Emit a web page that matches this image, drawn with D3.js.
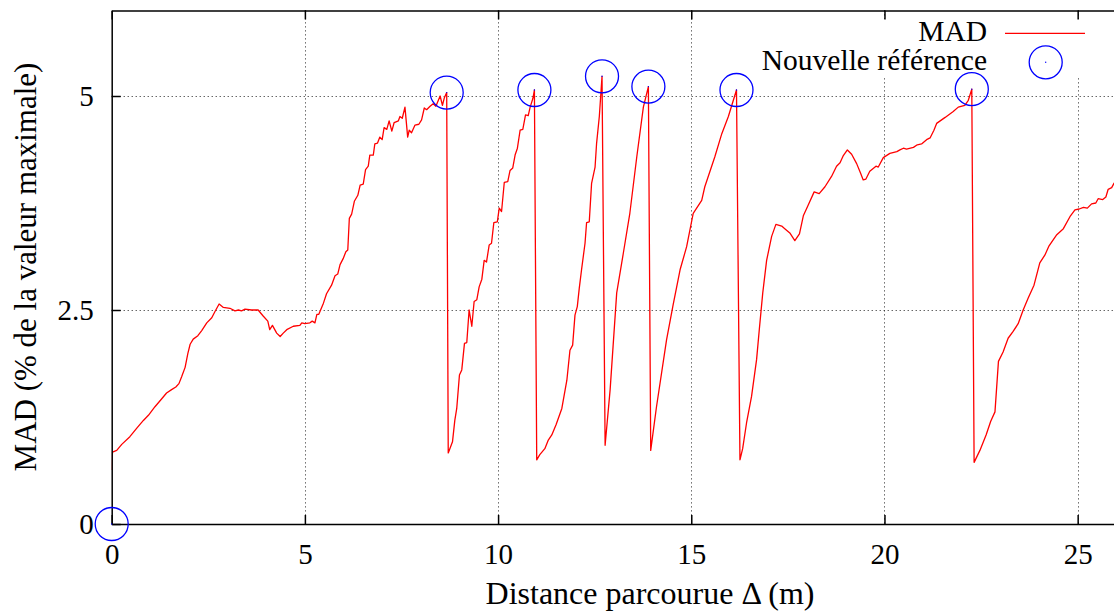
<!DOCTYPE html>
<html>
<head>
<meta charset="utf-8">
<script src="https://cdn.jsdelivr.net/npm/d3@7"></script>
<style>
  body { margin: 0; background: #fff; }
  text { font-family: "Liberation Serif", "Times New Roman", serif; fill: #000; }
</style>
</head>
<body>
<div id="chart"></div>
<script>
// tick values
const xTicks = [0, 5, 10, 15, 20, 25];
const yTicks = [0, 2.5, 5];

// MAD curve: [distance (m), MAD (%)]
const madSeries = [
  [0,0.63],[0.02,0.84],[0.13,0.86],[0.26,0.93],[0.47,1.02],[0.65,1.12],[0.82,1.21],[0.95,1.27],[1.12,1.37],
  [1.29,1.46],[1.42,1.53],[1.55,1.57],[1.66,1.60],[1.74,1.64],[1.81,1.72],[1.90,1.83],[1.97,1.99],[2.03,2.10],
  [2.11,2.16],[2.23,2.20],[2.33,2.26],[2.46,2.35],[2.59,2.41],[2.67,2.48],[2.78,2.57],[2.89,2.53],[3.06,2.52],
  [3.19,2.49],[3.28,2.50],[3.36,2.49],[3.45,2.51],[3.62,2.50],[3.79,2.50],[3.92,2.43],[4.04,2.37],[4.09,2.27],
  [4.16,2.32],[4.27,2.23],[4.36,2.19],[4.44,2.23],[4.53,2.27],[4.70,2.31],[4.87,2.32],[4.92,2.35],[5.00,2.34],
  [5.13,2.35],[5.19,2.37],[5.26,2.35],[5.31,2.45],[5.36,2.45],[5.48,2.58],[5.56,2.69],[5.69,2.79],[5.78,2.90],
  [5.85,2.92],[5.91,3.03],[5.99,3.10],[6.06,3.18],[6.11,3.20],[6.15,3.57],[6.21,3.62],[6.28,3.77],[6.37,3.84],
  [6.43,3.96],[6.51,3.97],[6.57,4.14],[6.64,4.18],[6.68,4.31],[6.77,4.31],[6.81,4.44],[6.88,4.45],[6.94,4.52],
  [7.00,4.49],[7.05,4.63],[7.12,4.61],[7.18,4.71],[7.25,4.59],[7.31,4.69],[7.42,4.71],[7.46,4.76],[7.52,4.74],
  [7.59,4.87],[7.66,4.52],[7.70,4.60],[7.76,4.57],[7.85,4.66],[7.95,4.67],[8.02,4.72],[8.09,4.86],[8.15,4.84],
  [8.24,4.88],[8.32,4.91],[8.39,4.88],[8.50,5.00],[8.56,4.89],[8.61,4.98],[8.67,5.04],
  [8.71,0.83],[8.82,0.96],[8.88,1.21],[8.93,1.35],[9.00,1.74],[9.06,1.80],[9.13,2.11],[9.19,2.12],[9.25,2.50],
  [9.32,2.31],[9.38,2.60],[9.45,2.62],[9.51,2.77],[9.58,2.86],[9.64,3.08],[9.70,3.06],[9.77,3.26],[9.83,3.28],
  [9.89,3.52],[9.98,3.53],[10.03,3.69],[10.09,3.65],[10.16,3.99],[10.25,4.00],[10.31,4.13],[10.38,4.16],
  [10.44,4.31],[10.50,4.39],[10.57,4.60],[10.64,4.61],[10.71,4.78],[10.78,4.77],[10.83,4.87],[10.90,4.97],[10.94,5.07],
  [11.00,0.75],[11.08,0.81],[11.21,0.88],[11.30,0.98],[11.39,1.04],[11.50,1.16],[11.65,1.35],[11.78,1.68],
  [11.86,2.03],[11.93,2.09],[11.99,2.44],[12.05,2.54],[12.10,2.75],[12.16,2.97],[12.25,3.28],[12.29,3.52],
  [12.36,3.53],[12.42,3.98],[12.51,4.17],[12.55,4.45],[12.62,4.76],[12.69,5.23],
  [12.77,0.92],[12.90,1.57],[13.07,2.70],[13.24,3.16],[13.41,3.63],[13.59,4.29],[13.76,4.87],[13.89,5.11],
  [13.95,0.86],[14.10,1.37],[14.36,2.15],[14.53,2.56],[14.71,2.97],[14.88,3.24],[15.05,3.63],[15.27,3.78],
  [15.35,3.94],[15.61,4.29],[15.79,4.56],[15.96,4.76],[16.17,5.07],
  [16.26,0.75],[16.33,0.88],[16.43,1.18],[16.56,1.49],[16.69,1.92],[16.76,2.27],[16.85,2.70],[16.95,3.08],
  [17.08,3.36],[17.19,3.50],[17.34,3.48],[17.42,3.45],[17.55,3.40],[17.68,3.31],[17.80,3.39],[17.90,3.60],
  [18.03,3.73],[18.18,3.88],[18.31,3.86],[18.46,3.94],[18.63,4.06],[18.76,4.18],[18.85,4.22],[18.93,4.30],
  [19.04,4.37],[19.15,4.32],[19.28,4.21],[19.38,4.10],[19.45,4.02],[19.52,4.03],[19.62,4.12],[19.78,4.18],
  [19.84,4.17],[19.97,4.28],[20.14,4.33],[20.32,4.35],[20.40,4.37],[20.49,4.39],[20.57,4.38],[20.75,4.40],
  [20.85,4.43],[20.96,4.44],[21.09,4.49],[21.18,4.51],[21.28,4.60],[21.35,4.68],[21.57,4.75],[21.78,4.82],
  [21.91,4.87],[22.08,4.89],[22.17,4.95],[22.26,5.08],
  [22.32,0.72],[22.47,0.86],[22.63,1.04],[22.75,1.20],[22.86,1.31],[22.95,1.90],[23.07,2.01],[23.20,2.17],
  [23.33,2.25],[23.46,2.34],[23.59,2.50],[23.72,2.64],[23.87,2.79],[24.02,3.05],[24.15,3.14],[24.26,3.25],
  [24.46,3.38],[24.63,3.45],[24.80,3.59],[24.93,3.67],[25.04,3.68],[25.15,3.70],[25.25,3.69],[25.36,3.74],
  [25.47,3.75],[25.53,3.80],[25.65,3.79],[25.73,3.82],[25.79,3.91],[25.88,3.93],[25.94,3.98],[26.1,4.07]
];

// "Nouvelle référence" points
const refDistance = [0, 8.67, 10.94, 12.69, 13.89, 16.17, 22.26];
const refMad = [0, 5.04, 5.07, 5.23, 5.11, 5.07, 5.08];

const width = 1114;
const height = 613;
const margin = { top: 10.4, left: 111.7, bottom: 89 };
const plotRight = 1116.3;

const svg = d3.select("#chart").append("svg")
  .attr("width", width)
  .attr("height", height);

const x = d3.scaleLinear().domain([0, 26]).range([margin.left, plotRight]);
const y = d3.scaleLinear().domain([0, 6]).range([height - margin.bottom, margin.top]);

// dotted grid
const grid = svg.append("g")
  .attr("stroke", "#222")
  .attr("stroke-width", 1)
  .attr("stroke-dasharray", "1,3");
grid.selectAll(".vgrid")
  .data(xTicks.filter(d => d > 0))
  .enter().append("line")
  .attr("x1", d => Math.round(x(d)) + 0.5).attr("x2", d => Math.round(x(d)) + 0.5)
  .attr("y1", y(6)).attr("y2", y(0));
grid.selectAll(".hgrid")
  .data(yTicks.filter(d => d > 0))
  .enter().append("line")
  .attr("y1", d => Math.round(y(d)) + 0.5).attr("y2", d => Math.round(y(d)) + 0.5)
  .attr("x1", x(0)).attr("x2", plotRight);

// opaque key box hides the grid behind the legend
svg.append("rect")
  .attr("x", 745).attr("y", 19)
  .attr("width", width - 745).attr("height", 59)
  .attr("fill", "#fff");

// clip the curve to the plotting area
svg.append("clipPath").attr("id", "plot-clip")
  .append("rect")
  .attr("x", x(0)).attr("y", y(6))
  .attr("width", plotRight - x(0)).attr("height", y(0) - y(6));

const line = d3.line()
  .x(d => x(d[0]))
  .y(d => y(d[1]));

svg.append("path")
  .datum(madSeries)
  .attr("clip-path", "url(#plot-clip)")
  .attr("fill", "none")
  .attr("stroke", "#ff0000")
  .attr("stroke-width", 1.3)
  .attr("stroke-linejoin", "round")
  .attr("d", line);

// axes (ticks pointing inward, gnuplot style)
svg.append("g")
  .attr("transform", "translate(0," + y(0) + ")")
  .call(d3.axisBottom(x).tickValues(xTicks).tickSize(-9).tickSizeOuter(0).tickPadding(19));
svg.append("g")
  .attr("transform", "translate(0," + y(6) + ")")
  .call(d3.axisTop(x).tickValues(xTicks).tickSize(-9).tickSizeOuter(0).tickFormat(""));
svg.append("g")
  .attr("transform", "translate(" + x(0) + ",0)")
  .call(d3.axisLeft(y).tickValues(yTicks).tickSize(-9).tickSizeOuter(0).tickPadding(18)
    .tickFormat(d => String(d)));

svg.selectAll(".domain").attr("stroke", "#000").attr("stroke-width", 1.5);
svg.selectAll(".tick line").attr("stroke", "#000").attr("stroke-width", 1.5);
svg.selectAll(".tick text")
  .attr("font-family", "Liberation Serif, serif")
  .attr("font-size", 29);

// reference circles
const refs = refDistance.map((d, i) => ({ dist: d, mad: refMad[i] }));
svg.selectAll(".ref")
  .data(refs)
  .enter().append("circle")
  .attr("class", "ref")
  .attr("cx", d => x(d.dist))
  .attr("cy", d => y(d.mad))
  .attr("r", 16.5)
  .attr("fill", "none")
  .attr("stroke", "#0000ff")
  .attr("stroke-width", 1.3);
svg.selectAll(".refdot")
  .data(refs)
  .enter().append("circle")
  .attr("cx", d => x(d.dist))
  .attr("cy", d => y(d.mad))
  .attr("r", 0.7)
  .attr("fill", "#0000ff");

// legend
svg.append("text")
  .attr("x", 987).attr("y", 40.5)
  .attr("text-anchor", "end")
  .attr("font-size", 29.5)
  .text("MAD");
svg.append("line")
  .attr("x1", 1005).attr("x2", 1085)
  .attr("y1", 33.3).attr("y2", 33.3)
  .attr("stroke", "#ff0000").attr("stroke-width", 1.3);
svg.append("text")
  .attr("x", 987).attr("y", 70)
  .attr("text-anchor", "end")
  .attr("font-size", 29.5)
  .text("Nouvelle référence");
svg.append("circle")
  .attr("cx", 1045.7).attr("cy", 62.3).attr("r", 16.5)
  .attr("fill", "none").attr("stroke", "#0000ff").attr("stroke-width", 1.3);
svg.append("circle")
  .attr("cx", 1045.7).attr("cy", 62.3).attr("r", 0.7)
  .attr("fill", "#0000ff");

// axis titles
svg.append("text")
  .attr("x", 650).attr("y", 604)
  .attr("text-anchor", "middle")
  .attr("font-size", 32)
  .text("Distance parcourue Δ (m)");
svg.append("text")
  .attr("transform", "translate(36,267) rotate(-90)")
  .attr("text-anchor", "middle")
  .attr("font-size", 31)
  .text("MAD (% de la valeur maximale)");
</script>
</body>
</html>
